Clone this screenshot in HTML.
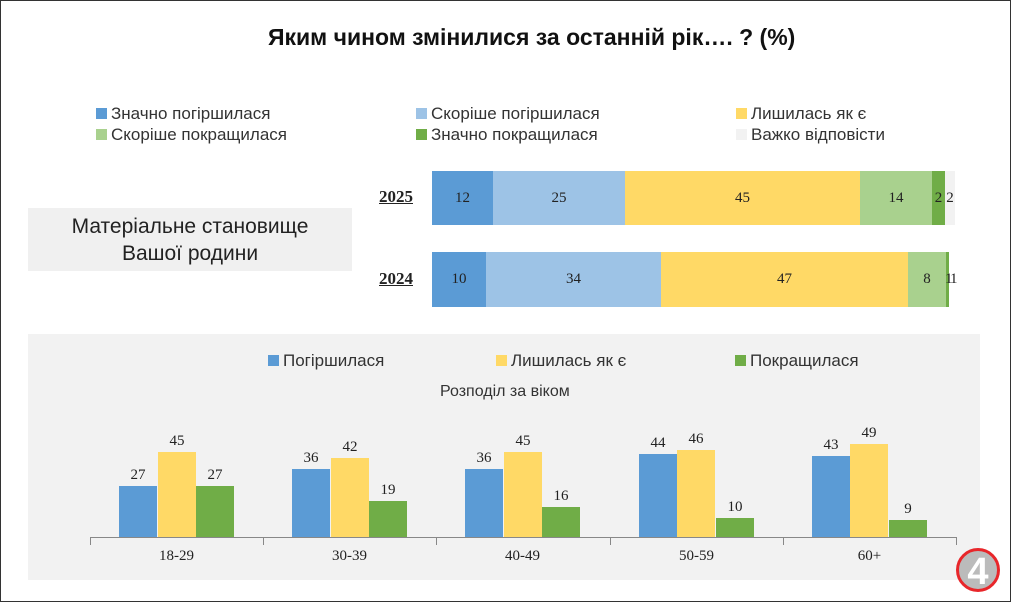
<!DOCTYPE html>
<html><head><meta charset="utf-8"><style>
body{margin:0;width:1011px;height:602px;overflow:hidden;background:#fff;font-family:"Liberation Sans","DejaVu Sans",sans-serif;}
.f{position:absolute;left:0;top:0;width:1009px;height:600px;border:1px solid #333;}
.a{position:absolute;white-space:nowrap;}
.lg{font-size:17px;color:#333;}
.sq{display:inline-block;width:11px;height:11px;margin-right:4px;vertical-align:0px;}
.seg{position:absolute;top:0;height:100%;font-family:"Liberation Serif",serif;font-size:15px;color:#222;display:flex;align-items:center;justify-content:center;overflow:visible;}
.yr{font-family:"Liberation Serif",serif;font-weight:bold;font-size:17px;text-decoration:underline;color:#222;}
.b{position:absolute;width:38px;}
.v{position:absolute;width:38px;text-align:center;font-family:"Liberation Serif",serif;font-size:15px;color:#222;}
.t{position:absolute;width:1px;height:8px;background:#888;top:537px;}
.c{position:absolute;width:173px;text-align:center;font-family:"Liberation Serif",serif;font-size:15px;color:#222;top:548px;}
</style></head><body>
<div class="f"></div>
<div class="a" style="left:268px;top:24px;font-size:23px;font-weight:bold;color:#111;">Яким чином змінилися за останній рік…. ? (%)</div>
<div class="a lg" style="left:96px;top:104px"><span class="sq" style="background:#5b9bd5"></span>Значно погіршилася</div>
<div class="a lg" style="left:96px;top:125px"><span class="sq" style="background:#a9d18e"></span>Скоріше покращилася</div>
<div class="a lg" style="left:416px;top:104px"><span class="sq" style="background:#9dc3e6"></span>Скоріше погіршилася</div>
<div class="a lg" style="left:416px;top:125px"><span class="sq" style="background:#70ad47"></span>Значно покращилася</div>
<div class="a lg" style="left:736px;top:104px"><span class="sq" style="background:#ffd966"></span>Лишилась як є</div>
<div class="a lg" style="left:736px;top:125px"><span class="sq" style="background:#f2f2f2"></span>Важко відповісти</div>
<div class="a" style="left:28px;top:208px;width:324px;height:63px;background:#f0f0f0;text-align:center;font-size:21px;line-height:27px;color:#222;padding-top:5px;box-sizing:border-box;">Матеріальне становище<br>Вашої родини</div>
<div class="a yr" style="left:379px;top:187px">2025</div>
<div class="a yr" style="left:379px;top:269px">2024</div>
<div class="a" style="left:432px;top:171px;width:524px;height:54px;">
<div class="seg" style="left:0;width:61px;background:#5b9bd5">12</div>
<div class="seg" style="left:61px;width:132px;background:#9dc3e6">25</div>
<div class="seg" style="left:193px;width:235px;background:#ffd966">45</div>
<div class="seg" style="left:428px;width:72px;background:#a9d18e">14</div>
<div class="seg" style="left:500px;width:13px;background:#70ad47">2</div>
<div class="seg" style="left:513px;width:10px;background:#f2f2f2">2</div>
</div>
<div class="a" style="left:432px;top:252px;width:520px;height:55px;">
<div class="seg" style="left:0;width:54px;background:#5b9bd5">10</div>
<div class="seg" style="left:54px;width:175px;background:#9dc3e6">34</div>
<div class="seg" style="left:229px;width:247px;background:#ffd966">47</div>
<div class="seg" style="left:476px;width:38px;background:#a9d18e">8</div>
<div class="seg" style="left:514px;width:3px;background:#70ad47"></div>
<div class="a" style="left:513px;top:19px;font-family:'Liberation Serif',serif;font-size:15px;color:#222;letter-spacing:-2px">11</div>
</div>
<div class="a" style="left:28px;top:334px;width:952px;height:246px;background:#f2f2f2;"></div>
<div class="a lg" style="left:268px;top:351px"><span class="sq" style="background:#5b9bd5"></span>Погіршилася</div>
<div class="a lg" style="left:496px;top:351px"><span class="sq" style="background:#ffd966"></span>Лишилась як є</div>
<div class="a lg" style="left:735px;top:351px"><span class="sq" style="background:#70ad47"></span>Покращилася</div>
<div class="a" style="left:440px;top:383px;font-size:16px;color:#333">Розподіл за віком</div>
<div class="a" style="left:90px;top:537px;width:866px;height:1px;background:#888"></div>
<div id="g"></div>
<script>
var d=[["18-29",27,45,27],["30-39",36,42,19],["40-49",36,45,16],["50-59",44,46,10],["60+",43,49,9]];
var cl=["#5b9bd5","#ffd966","#70ad47"],h="";
for(var i=0;i<5;i++){var x0=90+i*173.2;
h+='<div class="t" style="left:'+Math.round(x0)+'px"></div><div class="c" style="left:'+Math.round(x0)+'px">'+d[i][0]+'</div>';
for(var j=0;j<3;j++){var v=d[i][j+1],ht=Math.round(v*1.89),x=Math.round(x0+29+j*38.5);
h+='<div class="b" style="left:'+x+'px;top:'+(537-ht)+'px;height:'+ht+'px;background:'+cl[j]+'"></div>';
h+='<div class="v" style="left:'+x+'px;top:'+(537-ht-19)+'px">'+v+'</div>';}}
h+='<div class="t" style="left:956px"></div>';
document.getElementById("g").innerHTML=h;
</script>
<div class="a" style="left:956px;top:548px;width:44px;height:44px;border-radius:50%;border:3px solid #e8262a;background:#bbb;box-sizing:border-box;color:#fff;font-size:38px;font-weight:bold;text-align:center;line-height:42px;">4</div>
</body></html>
